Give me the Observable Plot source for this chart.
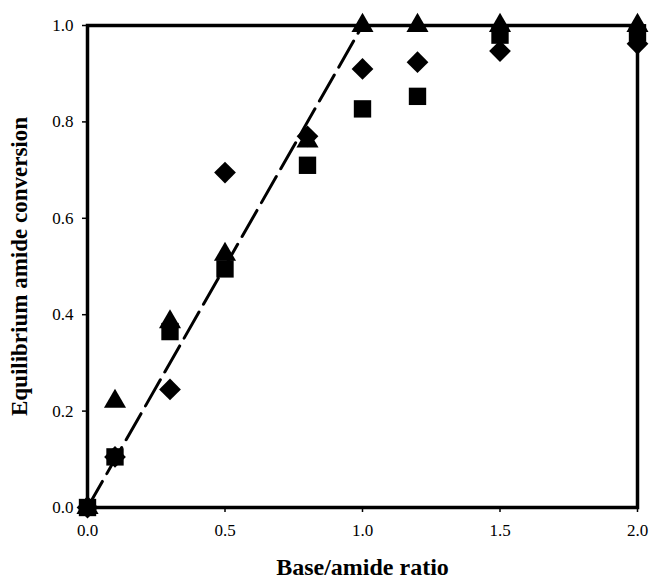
<!DOCTYPE html>
<html>
<head>
<meta charset="utf-8">
<script src="https://cdn.jsdelivr.net/npm/d3@7"></script>
<script src="https://cdn.jsdelivr.net/npm/@observablehq/plot@0.6"></script>
<style>
  body { margin: 0; background: #fff; }
  #chart svg { font-family: "Liberation Serif", "DejaVu Serif", serif; }
</style>
</head>
<body>
<div id="chart"></div>
<script>
const ratios = [0, 0.1, 0.3, 0.5, 0.8, 1.0, 1.2, 1.5, 2.0];
const triangleValues = [0, 0.22, 0.385, 0.525, 0.76, 1.0, 1.0, 1.0, 1.0];
const squareValues = [0, 0.105, 0.365, 0.495, 0.71, 0.827, 0.853, 0.98, 0.985];
const diamondValues = [0, 0.105, 0.245, 0.695, 0.77, 0.91, 0.924, 0.947, 0.962];
const trendX = [0, 1.0, 2.0];
const trendY = [0, 1.0, 1.0];
const xTicks = [0, 0.5, 1.0, 1.5, 2.0];
const yTicks = [0, 0.2, 0.4, 0.6, 0.8, 1.0];
const xTitle = "Base/amide ratio";
const yTitle = "Equilibrium amide conversion";

const toRows = (xs, ys) => xs.map((x, i) => ({x, y: ys[i]}));
const tri = toRows(ratios, triangleValues);
const sq = toRows(ratios, squareValues);
const dia = toRows(ratios, diamondValues);
const trend = toRows(trendX, trendY);

const chart = Plot.plot({
  width: 650,
  height: 579,
  marginLeft: 87,
  marginRight: 13,
  marginTop: 25,
  marginBottom: 72,
  style: {fontFamily: "Liberation Serif, serif", fontSize: "17px", color: "#000", background: "#fff"},
  x: {domain: [0, 2], label: null},
  y: {domain: [0, 1], label: null},
  marks: [
    Plot.axisX({ticks: xTicks, tickFormat: d3.format(".1f"), tickSize: 5, tickPadding: 11, stroke: "#000", strokeWidth: 1.5, fontSize: 17}),
    Plot.axisY({ticks: yTicks, tickFormat: d3.format(".1f"), tickSize: 5, tickPadding: 9, stroke: "#000", strokeWidth: 1.5, fontSize: 17}),
    Plot.line(trend, {x: "x", y: "y", stroke: "#000", strokeWidth: 3, strokeDasharray: "30,9"}),
    Plot.frame({stroke: "#000", strokeWidth: 3.5}),
    Plot.dot(sq, {x: "x", y: "y", symbol: "square", r: 9.8, fill: "#000", stroke: "none"}),
    Plot.dot(dia, {x: "x", y: "y", symbol: "diamond2", r: 9.8, fill: "#000", stroke: "none"}),
    Plot.dot(tri, {x: "x", y: "y", symbol: "triangle", r: 8.2, fill: "#000", stroke: "none"}),
    Plot.text([xTitle], {frameAnchor: "bottom", textAnchor: "middle", dy: 67, fontWeight: "bold", fontSize: 24, fill: "#000"}),
    Plot.text([yTitle], {frameAnchor: "left", textAnchor: "middle", rotate: -90, dx: -68, fontWeight: "bold", fontSize: 23, fill: "#000"})
  ]
});
document.getElementById("chart").appendChild(chart);
</script>
</body>
</html>
